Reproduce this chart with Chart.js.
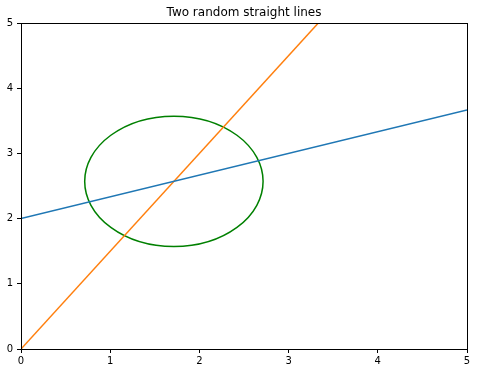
<!DOCTYPE html>
<html>
<head>
<meta charset="utf-8">
<script src="https://cdn.jsdelivr.net/npm/chart.js@4/dist/chart.umd.min.js"></script>
<style>
html,body{margin:0;padding:0;background:#fff;}
#wrap{width:477px;height:373px;position:relative;}
</style>
</head>
<body>
<div id="wrap"><canvas id="c" width="477" height="373"></canvas></div>
<script>
// Data
const titleText = "Two random straight lines";
const blueX = [0, 5];
const blueY = [2, 3.6667];
const orangeX = [0, 5];
const orangeY = [0, 7.5];
const circleCenter = [1.714, 2.571];
const circleRadius = [1.0];
const xTicks = [0, 1, 2, 3, 4, 5];
const yTicks = [0, 1, 2, 3, 4, 5];

const toPts = (xs, ys) => xs.map((x, i) => ({x: x, y: ys[i]}));

const FONT = "'DejaVu Sans', sans-serif";

const framePlugin = {
  id: 'frame',
  beforeDatasetsDraw(chart) {
    const {ctx, scales} = chart;
    const ca = chart.chartArea;
    const cx = scales.x.getPixelForValue(circleCenter[0]);
    const cy = scales.y.getPixelForValue(circleCenter[1]);
    const rx = Math.abs(scales.x.getPixelForValue(circleCenter[0] + circleRadius[0]) - cx);
    const ry = Math.abs(scales.y.getPixelForValue(circleCenter[1] + circleRadius[0]) - cy);
    ctx.save();
    ctx.beginPath();
    ctx.rect(ca.left, ca.top, ca.right - ca.left, ca.bottom - ca.top);
    ctx.clip();
    ctx.beginPath();
    ctx.ellipse(cx, cy, rx, ry, 0, 0, Math.PI * 2);
    ctx.strokeStyle = '#008000';
    ctx.lineWidth = 1.5;
    ctx.stroke();
    ctx.restore();
  },
  afterDatasetsDraw(chart) {
    const {ctx} = chart;
    const ca = chart.chartArea;
    ctx.save();
    ctx.strokeStyle = '#000';
    ctx.lineWidth = 1;
    ctx.strokeRect(Math.round(ca.left) + 0.5, Math.round(ca.top) + 0.5,
      Math.round(ca.right - ca.left), Math.round(ca.bottom - ca.top));
    ctx.restore();
  }
};

new Chart(document.getElementById('c'), {
  type: 'scatter',
  data: {
    datasets: [
      {data: toPts(blueX, blueY), showLine: true, borderColor: '#1f77b4', borderWidth: 1.5, pointRadius: 0, fill: false},
      {data: toPts(orangeX, orangeY), showLine: true, borderColor: '#ff7f0e', borderWidth: 1.5, pointRadius: 0, fill: false}
    ]
  },
  options: {
    responsive: false,
    animation: false,
    devicePixelRatio: 1,
    layout: {padding: {left: 0, right: 10, top: 0, bottom: 0}},
    plugins: {
      legend: {display: false},
      tooltip: {enabled: false},
      title: {
        display: true,
        fullSize: false,
        text: titleText,
        color: '#000',
        font: {family: FONT, size: 12, weight: 'normal'},
        padding: {top: 5.3, bottom: 3.3}
      }
    },
    scales: {
      x: {
        type: 'linear',
        min: 0, max: 5,
        afterBuildTicks(s) { s.ticks = xTicks.map(v => ({value: v})); },
        afterFit(s) { s.height = 24; },
        grid: {display: true, drawOnChartArea: false, drawTicks: true, tickLength: 4, color: '#000', lineWidth: 1},
        border: {display: false},
        ticks: {color: '#000', font: {family: FONT, size: 10}, padding: 2, maxRotation: 0}
      },
      y: {
        type: 'linear',
        min: 0, max: 5,
        afterBuildTicks(s) { s.ticks = yTicks.map(v => ({value: v})); },
        afterFit(s) { s.width = 21; },
        grid: {display: true, drawOnChartArea: false, drawTicks: true, tickLength: 4, color: '#000', lineWidth: 1},
        border: {display: false},
        ticks: {color: '#000', font: {family: FONT, size: 10}, padding: 4}
      }
    }
  },
  plugins: [framePlugin]
});
</script>
</body>
</html>
